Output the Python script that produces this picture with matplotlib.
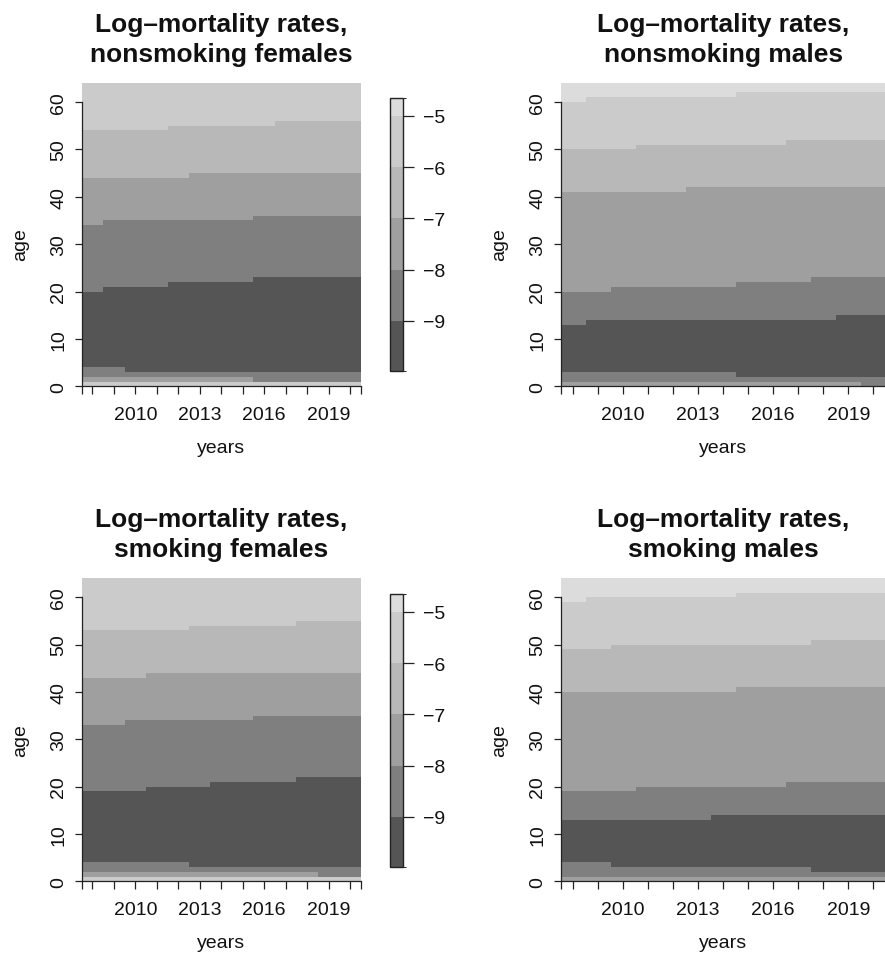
import numpy as np
import matplotlib
matplotlib.use("Agg")
import matplotlib.pyplot as plt
from matplotlib.colors import ListedColormap, BoundaryNorm

plt.rcParams['font.family'] = ['Liberation Sans', 'DejaVu Sans']

# ---------------------------------------------------------------- data
years = np.arange(2008, 2021)
year_edges = np.arange(2007.5, 2021.0, 1.0)
age_edges = np.arange(0, 65)
year_labels = [2010, 2013, 2016, 2019]
age_ticks = [0, 10, 20, 30, 40, 50, 60]

levels = [-9, -8, -7, -6, -5]
z_range = (-9.98, -4.65)
band_values = [-9.5, -8.5, -7.5, -6.5, -5.5, -4.8]
band_colors = ['#555555', '#7f7f7f', '#9f9f9f', '#b8b8b8', '#cbcbcb', '#dcdcdc']

# first age at which log-mortality exceeds -9, -8, -7, -6, -5 (one value per year 2008-2020)
nsf_upper = [
    [20, 21, 21, 21, 22, 22, 22, 22, 23, 23, 23, 23, 23],
    [34, 35, 35, 35, 35, 35, 35, 35, 36, 36, 36, 36, 36],
    [44, 44, 44, 44, 44, 45, 45, 45, 45, 45, 45, 45, 45],
    [54, 54, 54, 54, 55, 55, 55, 55, 55, 56, 56, 56, 56],
    [64, 64, 64, 64, 64, 64, 64, 64, 64, 64, 64, 64, 64],
]
# childhood ages: log-mortality stays above -9, -8, -7, -6, -5 below these ages
nsf_lower = [
    [4, 4, 3, 3, 3, 3, 3, 3, 3, 3, 3, 3, 3],
    [2, 2, 2, 2, 2, 2, 2, 2, 1, 1, 1, 1, 1],
    [1, 1, 1, 1, 1, 1, 1, 1, 1, 1, 1, 1, 1],
    [1, 1, 1, 1, 1, 1, 1, 1, 1, 1, 1, 1, 1],
    [0, 0, 0, 0, 0, 0, 0, 0, 0, 0, 0, 0, 0],
]

nsm_upper = [
    [13, 14, 14, 14, 14, 14, 14, 14, 14, 14, 14, 15, 15],
    [20, 20, 21, 21, 21, 21, 21, 22, 22, 22, 23, 23, 23],
    [41, 41, 41, 41, 41, 42, 42, 42, 42, 42, 42, 42, 42],
    [50, 50, 50, 51, 51, 51, 51, 51, 51, 52, 52, 52, 52],
    [60, 61, 61, 61, 61, 61, 61, 62, 62, 62, 62, 62, 62],
]
nsm_lower = [
    [3, 3, 3, 3, 3, 3, 3, 2, 2, 2, 2, 2, 2],
    [1, 1, 1, 1, 1, 1, 1, 1, 1, 1, 1, 1, 0],
    [0, 0, 0, 0, 0, 0, 0, 0, 0, 0, 0, 0, 0],
    [0, 0, 0, 0, 0, 0, 0, 0, 0, 0, 0, 0, 0],
    [0, 0, 0, 0, 0, 0, 0, 0, 0, 0, 0, 0, 0],
]

sf_upper = [
    [19, 19, 19, 20, 20, 20, 21, 21, 21, 21, 22, 22, 22],
    [33, 33, 34, 34, 34, 34, 34, 34, 35, 35, 35, 35, 35],
    [43, 43, 43, 44, 44, 44, 44, 44, 44, 44, 44, 44, 44],
    [53, 53, 53, 53, 53, 54, 54, 54, 54, 54, 55, 55, 55],
    [64, 64, 64, 64, 64, 64, 64, 64, 64, 64, 64, 64, 64],
]
sf_lower = [
    [4, 4, 4, 4, 4, 3, 3, 3, 3, 3, 3, 3, 3],
    [2, 2, 2, 2, 2, 2, 2, 2, 2, 2, 2, 1, 1],
    [1, 1, 1, 1, 1, 1, 1, 1, 1, 1, 1, 1, 1],
    [1, 1, 1, 1, 1, 1, 1, 1, 1, 1, 1, 1, 1],
    [0, 0, 0, 0, 0, 0, 0, 0, 0, 0, 0, 0, 0],
]

sm_upper = [
    [13, 13, 13, 13, 13, 13, 14, 14, 14, 14, 14, 14, 14],
    [19, 19, 19, 20, 20, 20, 20, 20, 20, 21, 21, 21, 21],
    [40, 40, 40, 40, 40, 40, 40, 41, 41, 41, 41, 41, 41],
    [49, 49, 50, 50, 50, 50, 50, 50, 50, 50, 51, 51, 51],
    [59, 60, 60, 60, 60, 60, 60, 61, 61, 61, 61, 61, 61],
]
sm_lower = [
    [4, 4, 3, 3, 3, 3, 3, 3, 3, 3, 2, 2, 2],
    [1, 1, 1, 1, 1, 1, 1, 1, 1, 1, 1, 1, 1],
    [0, 0, 0, 0, 0, 0, 0, 0, 0, 0, 0, 0, 0],
    [0, 0, 0, 0, 0, 0, 0, 0, 0, 0, 0, 0, 0],
    [0, 0, 0, 0, 0, 0, 0, 0, 0, 0, 0, 0, 0],
]


def log_mortality(upper, lower):
    """Age x year surface of banded log-mortality rates."""
    age = np.arange(len(age_edges) - 1)[:, None]
    band = np.zeros((len(age), len(years)), dtype=int)
    for up, low in zip(upper, lower):
        up = np.asarray(up)[None, :]
        low = np.asarray(low)[None, :]
        band += ((age >= up) | (age < low)).astype(int)
    return np.asarray(band_values)[band]


# ---------------------------------------------------------------- figure
W, H = 885, 954
fig = plt.figure(figsize=(W / 100, H / 100), dpi=100)

bounds = [z_range[0]] + levels + [z_range[1]]
cmap = ListedColormap(band_colors)
norm = BoundaryNorm(bounds, cmap.N)

TICK_FS = 14
TITLE_FS = 19
INK = '#111111'
AXC = '#222222'


def px_axes(left, top, right, bottom):
    return fig.add_axes([left / W, 1 - bottom / H, (right - left) / W, (bottom - top) / H])


def px_text(x, y, s, **kw):
    fig.text(x / W, 1 - y / H, s, **kw)


def panel(left, right, top, bottom, upper, lower, subtitle):
    ax = px_axes(left, top, right, bottom)
    z = log_mortality(upper, lower)
    mesh = ax.pcolormesh(year_edges, age_edges, z, cmap=cmap, norm=norm,
                         shading='flat', edgecolor='none', antialiased=False)
    ax.set_xlim(year_edges[0], year_edges[-1])
    ax.set_ylim(0, 64)
    for s in ('top', 'right'):
        ax.spines[s].set_visible(False)
    ax.spines['left'].set_bounds(0, 60)
    ax.spines['bottom'].set_bounds(year_edges[0], year_edges[-1])
    for s in ('left', 'bottom'):
        ax.spines[s].set_linewidth(0.9)
        ax.spines[s].set_color(AXC)

    xt = [year_edges[0]] + list(years) + [year_edges[-1]]
    ax.set_xticks(xt)
    ax.set_xticklabels([str(int(t)) if t in year_labels else '' for t in xt])
    ax.set_yticks(age_ticks)
    ax.set_yticklabels([str(t) for t in age_ticks])
    ax.tick_params(direction='out', length=5.4, width=0.9, color=AXC,
                   labelsize=TICK_FS, labelcolor=INK)
    ax.tick_params(axis='x', pad=8.5)
    ax.tick_params(axis='y', pad=5.0)
    for lbl in ax.get_yticklabels():
        lbl.set_rotation(90)
        lbl.set_va('center')

    cx = (left + right) / 2
    px_text(cx, top - 52.3, 'Log–mortality rates,', ha='center', va='baseline',
            fontsize=TITLE_FS, fontweight='bold', color=INK)
    px_text(cx, top - 22.3, subtitle, ha='center', va='baseline',
            fontsize=TITLE_FS, fontweight='bold', color=INK)
    px_text(cx, bottom + 66, 'years', ha='center', va='baseline',
            fontsize=TICK_FS, color=INK)
    px_text(left - 57, top + 161, 'age', ha='center', va='baseline',
            rotation=90, rotation_mode='anchor', fontsize=TICK_FS, color=INK)
    return mesh


def key(mesh, top, bottom):
    cax = px_axes(390, top, 403.3, bottom)
    cb = fig.colorbar(mesh, cax=cax, spacing='proportional', ticks=levels)
    cb.ax.set_yticklabels(['\u2212' + str(-v) for v in levels])
    cb.ax.tick_params(length=7.9, width=0.9, color=AXC, pad=6.0,
                      labelsize=TICK_FS, labelcolor=INK)
    cb.outline.set_linewidth(1.0)
    cb.outline.set_edgecolor(AXC)


m1 = panel(81.7, 360.7, 84.0, 387.3, nsf_upper, nsf_lower, 'nonsmoking females')
panel(560.7, 885.7, 84.0, 387.3, nsm_upper, nsm_lower, 'nonsmoking males')
key(m1, 99, 372)

m3 = panel(81.7, 360.7, 579.3, 882.3, sf_upper, sf_lower, 'smoking females')
panel(560.7, 885.7, 579.3, 882.3, sm_upper, sm_lower, 'smoking males')
key(m3, 595, 868)

fig.savefig('out.png', dpi=100)
